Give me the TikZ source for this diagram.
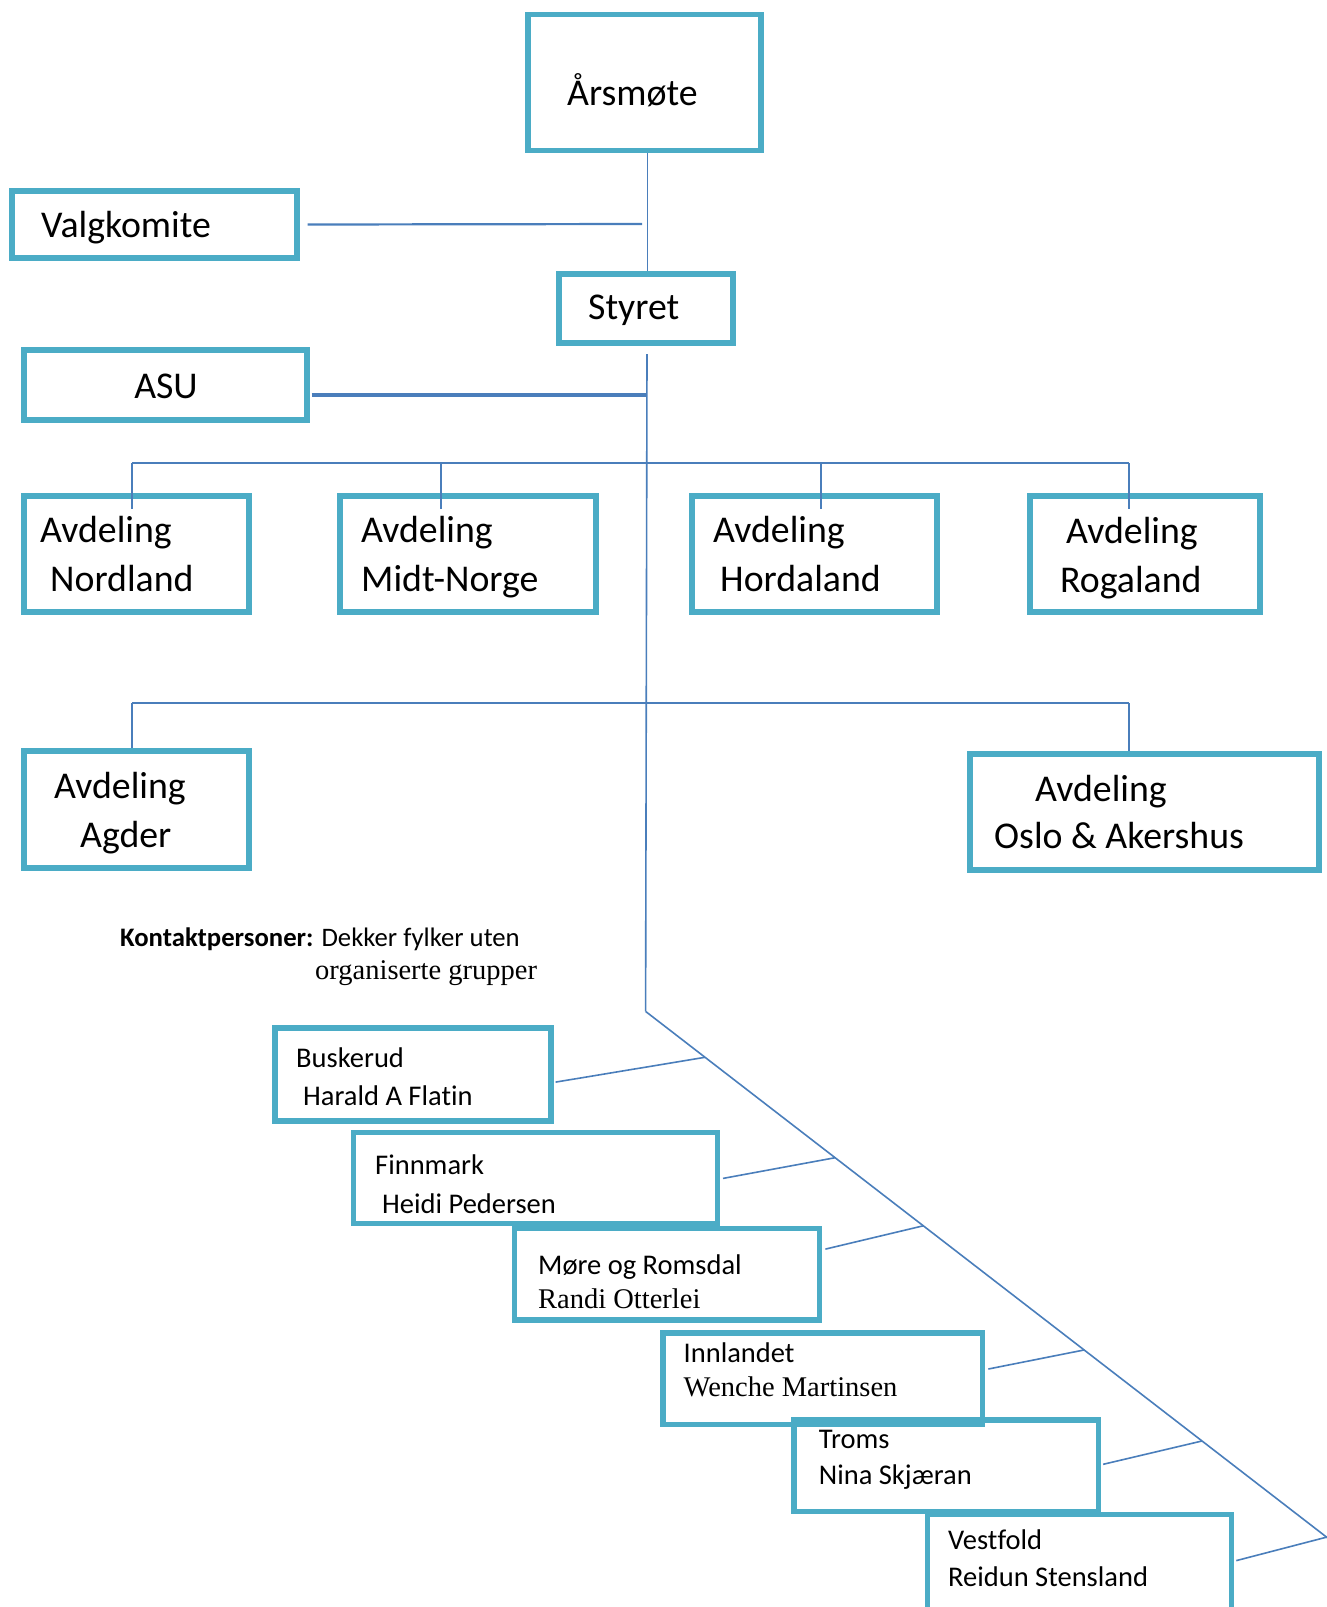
\documentclass[tikz,border=0pt]{standalone}
\usepackage{fontspec}
\setmainfont{Carlito}[Ligatures=NoCommon]
\newfontfamily\serifface{Liberation Serif}
\usetikzlibrary{calc}
\definecolor{boxc}{HTML}{4BACC6}
\definecolor{linec}{HTML}{4A7EBB}
\tikzset{
  orgbox/.style={draw=boxc, line width=5.2pt, inner sep=0pt},
  conn/.style={draw=linec, line width=1.6pt},
  bigtxt/.style={anchor=base west, inner sep=0pt, font=\fontsize{37.8}{44}\selectfont},
  smalltxt/.style={anchor=base west, inner sep=0pt, font=\fontsize{28.5}{34}\selectfont},
  seriftxt/.style={anchor=base west, inner sep=0pt, font=\serifface\fontsize{28.5}{34}\selectfont},
  notetxt/.style={anchor=base west, inner sep=0pt, font=\fontsize{26.7}{32}\selectfont},
}
\begin{document}
\begin{tikzpicture}[x=1pt, y=-1pt]
\useasboundingbox (0,0) rectangle (1327,1607);

% boxes
\node[orgbox, minimum width=233pt, minimum height=136pt] (ars) at (644.5,82.5) {};
\node[orgbox, minimum width=285pt, minimum height=67pt] (valg) at (154.5,224.5) {};
\node[orgbox, minimum width=174pt, minimum height=69pt] (styret) at (646,308.5) {};
\node[orgbox, minimum width=283pt, minimum height=70pt] (asu) at (165.5,385) {};
\node[orgbox, minimum width=225pt, minimum height=116pt] (nord) at (136.5,554) {};
\node[orgbox, minimum width=256pt, minimum height=116pt] (midt) at (468,554) {};
\node[orgbox, minimum width=245pt, minimum height=116pt] (hord) at (814.5,554) {};
\node[orgbox, minimum width=230pt, minimum height=116pt] (roga) at (1145,554) {};
\node[orgbox, minimum width=225pt, minimum height=117pt] (agder) at (136.5,809.5) {};
\node[orgbox, minimum width=349pt, minimum height=116pt] (oslo) at (1144.5,812) {};
\node[orgbox, minimum width=276pt, minimum height=93pt] (busk) at (413,1074.5) {};
\node[orgbox, minimum width=364pt, minimum height=91.3pt] (finn) at (535.4,1177.9) {};
\node[orgbox, minimum width=305.4pt, minimum height=91.3pt] (more) at (667.1,1274.3) {};
\node[orgbox, minimum width=319.7pt, minimum height=91.4pt] (innl) at (822.9,1378.7) {};
\node[orgbox, minimum width=304.5pt, minimum height=91.5pt] (troms) at (946.3,1465.8) {};
\node[orgbox, minimum width=304.4pt, minimum height=105.6pt] (vest) at (1079.5,1567.2) {};

% texts
\node[bigtxt] (t-ars) at (567,105) {Årsmøte};
\node[bigtxt] (t-valg) at (41,237) {Valgkomite};
\node[bigtxt] (t-styret) at (588,319) {Styret};
\node[bigtxt, anchor=base] (t-asu) at (166,398) {ASU};
\node[bigtxt] (t-nord1) at (40,542) {Avdeling};
\node[bigtxt] (t-nord2) at (50,591) {Nordland};
\node[bigtxt] (t-midt1) at (361,542) {Avdeling};
\node[bigtxt] (t-midt2) at (361,591) {Midt-Norge};
\node[bigtxt] (t-hord1) at (713,542) {Avdeling};
\node[bigtxt] (t-hord2) at (720,591) {Hordaland};
\node[bigtxt] (t-roga1) at (1066,543) {Avdeling};
\node[bigtxt] (t-roga2) at (1060,592) {Rogaland};
\node[bigtxt] (t-agder1) at (54,798) {Avdeling};
\node[bigtxt] (t-agder2) at (80,847) {Agder};
\node[bigtxt] (t-oslo1) at (1035,801) {Avdeling};
\node[bigtxt] (t-oslo2) at (994,848) {Oslo \& Akershus};

\node[notetxt] (note1) at (120,946) {\textbf{Kontaktpersoner:} Dekker fylker uten};
\node[seriftxt] (note2) at (315,979) {organiserte grupper};

\node[smalltxt] (t-busk1) at (296,1067) {Buskerud};
\node[smalltxt] (t-busk2) at (303,1105) {Harald A Flatin};
\node[smalltxt] (t-finn1) at (375,1174) {Finnmark};
\node[smalltxt] (t-finn2) at (382,1213) {Heidi Pedersen};
\node[smalltxt] (t-more1) at (538,1274) {Møre og Romsdal};
\node[seriftxt] (t-more2) at (538,1308) {Randi Otterlei};
\node[smalltxt] (t-innl1) at (683.5,1362) {Innlandet};
\node[seriftxt] (t-innl2) at (683.5,1396) {Wenche Martinsen};
\node[smalltxt] (t-troms1) at (818.7,1448) {Troms};
\node[smalltxt] (t-troms2) at (818.7,1484) {Nina Skjæran};
\node[smalltxt] (t-vest1) at (948,1549) {Vestfold};
\node[smalltxt] (t-vest2) at (948,1586) {Reidun Stensland};

% junction coordinates
\coordinate (vj) at (642,224);
\coordinate (stop) at (647,354);
\coordinate (asuj) at (647,395);
\coordinate (dtop) at (645.6,1011.4);
\coordinate (dbot) at (1400,1593.8);
\coordinate (b1l) at (132,463);
\coordinate (b1r) at (1129,463);
\coordinate (d1b) at (441,463);
\coordinate (d1c) at (821,463);
\coordinate (b2l) at (132,703);
\coordinate (b2r) at (1129,703);

% connectors
\draw[conn] ([xshift=3pt]ars.south) -- ([xshift=3pt]ars.south |- styret.north);
\draw[conn, line width=2.2pt] ($(valg.east)+(8,0)$) -- (vj);
\draw[conn] (stop) -- (dtop);
\draw[conn, line width=3.3pt] ($(asu.east)+(2,10)$) -- (asuj);
\draw[conn, line width=2pt] (b1l) -- (b1r);
\draw[conn] (b1l) -- ($(b1l |- nord.north)+(0,16)$);
\draw[conn] (d1b) -- ($(d1b |- midt.north)+(0,16)$);
\draw[conn] (d1c) -- ($(d1c |- hord.north)+(0,16)$);
\draw[conn] (b1r) -- ($(b1r |- roga.north)+(0,16)$);
\draw[conn, line width=2pt] (b2l) -- (b2r);
\draw[conn] (b2l) -- (b2l |- agder.north);
\draw[conn] (b2r) -- (b2r |- oslo.north);
\draw[conn] (dtop) -- (dbot);
\draw[conn] ($(busk.east)+(2,7.6)$) -- ($(dtop)!0.0788!(dbot)$);
\draw[conn] ($(finn.east)+(3,0.5)$) -- ($(dtop)!0.2512!(dbot)$);
\draw[conn] ($(more.east)+(3,-25.2)$) -- ($(dtop)!0.3681!(dbot)$);
\draw[conn] ($(innl.east)+(3,-9.7)$) -- ($(dtop)!0.5813!(dbot)$);
\draw[conn] ($(troms.east)+(2,-1.5)$) -- ($(dtop)!0.7376!(dbot)$);
\draw[conn] ($(vest.east)+(2,-6.6)$) -- ($(dtop)!0.9027!(dbot)$);
\end{tikzpicture}
\end{document}
